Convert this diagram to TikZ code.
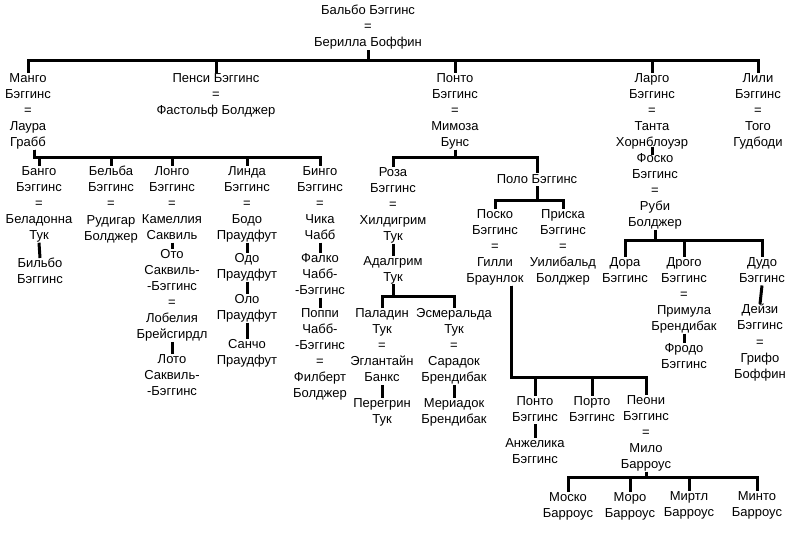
\documentclass[tikz,border=0pt]{standalone}
\usepackage{fontspec}
\setmainfont{Liberation Sans}

\begin{document}
\begin{tikzpicture}[x=1pt,y=-1pt]
\useasboundingbox (0,0) rectangle (790,536);
\tikzset{PersonStyle/.style =
	{anchor = north,
		align = center,
		inner sep = 0pt,
		font = \fontsize{13}{16.1}\selectfont,
		execute at begin node = {\rule{0pt}{10pt}},
		execute at end node = {\rule[-3pt]{0pt}{3pt}}}}

% Balbo and his children
\node[PersonStyle] (Balbo) at (368,5) {Бальбо Бэггинс\\=\\Берилла Боффин};
\node[PersonStyle] (Mungo) at (28,73) {Манго\\Бэггинс\\=\\Лаура\\Грабб};
\node[PersonStyle] (Pansy) at (216,73) {Пенси Бэггинс\\=\\Фастольф Болджер};
\node[PersonStyle] (Ponto) at (455,73) {Понто\\Бэггинс\\=\\Мимоза\\Бунс};
\node[PersonStyle] (Largo) at (652,73) {Ларго\\Бэггинс\\=\\Танта\\Хорнблоуэр};
\node[PersonStyle] (Lily) at (758,73) {Лили\\Бэггинс\\=\\Того\\Гудбоди};

% Mungo's line
\node[PersonStyle] (Bungo) at (39,166) {Банго\\Бэггинс\\=\\Беладонна\\Тук};
\node[PersonStyle] (Belba) at (111,166) {Бельба\\Бэггинс\\=\\Рудигар\\Болджер};
\node[PersonStyle] (Longo) at (172,166) {Лонго\\Бэггинс\\=\\Камеллия\\Саквиль};
\node[PersonStyle] (Linda) at (247,166) {Линда\\Бэггинс\\=\\Бодо\\Праудфут};
\node[PersonStyle] (Bingo) at (320,166) {Бинго\\Бэггинс\\=\\Чика\\Чабб};
\node[PersonStyle] (Bilbo) at (40,258) {Бильбо\\Бэггинс};
\node[PersonStyle] (Otho) at (172,249) {Ото\\Саквиль-\\-Бэггинс\\=\\Лобелия\\Брейсгирдл};
\node[PersonStyle] (Lotho) at (172,354) {Лото\\Саквиль-\\-Бэггинс};
\node[PersonStyle] (Odo) at (247,253) {Одо\\Праудфут};
\node[PersonStyle] (Olo) at (247,294) {Оло\\Праудфут};
\node[PersonStyle] (Sancho) at (247,339) {Санчо\\Праудфут};
\node[PersonStyle] (Falco) at (320,253) {Фалко\\Чабб-\\-Бэггинс};
\node[PersonStyle] (Poppy) at (320,308) {Поппи\\Чабб-\\-Бэггинс\\=\\Филберт\\Болджер};

% Ponto's line
\node[PersonStyle] (Rosa) at (393,167) {Роза\\Бэггинс\\=\\Хилдигрим\\Тук};
\node[PersonStyle] (Polo) at (537,173) {Поло Бэггинс};
\node[PersonStyle] (Adalgrim) at (393,256) {Адалгрим\\Тук};
\node[PersonStyle] (Paladin) at (382,308) {Паладин\\Тук\\=\\Эглантайн\\Банкс};
\node[PersonStyle] (Esmeralda) at (454,308) {Эсмеральда\\Тук\\=\\Сарадок\\Брендибак};
\node[PersonStyle] (Peregrin) at (382,398) {Перегрин\\Тук};
\node[PersonStyle] (Merry) at (454,398) {Мериадок\\Брендибак};
\node[PersonStyle] (Posco) at (495,209) {Поско\\Бэггинс\\=\\Гилли\\Браунлок};
\node[PersonStyle] (Prisca) at (563,209) {Приска\\Бэггинс\\=\\Уилибальд\\Болджер};
\node[PersonStyle] (PontoII) at (535,396) {Понто\\Бэггинс};
\node[PersonStyle] (Porto) at (592,396) {Порто\\Бэггинс};
\node[PersonStyle] (Peony) at (646,395) {Пеони\\Бэггинс\\=\\Мило\\Барроус};
\node[PersonStyle] (Angelica) at (535,438) {Анжелика\\Бэггинс};
\node[PersonStyle] (Mosco) at (568,492) {Моско\\Барроус};
\node[PersonStyle] (Moro) at (630,492) {Моро\\Барроус};
\node[PersonStyle] (Myrtle) at (689,491) {Миртл\\Барроус};
\node[PersonStyle] (Minto) at (757,491) {Минто\\Барроус};

% Largo's line
\node[PersonStyle] (Fosco) at (655,153) {Фоско\\Бэггинс\\=\\Руби\\Болджер};
\node[PersonStyle] (Dora) at (625,257) {Дора\\Бэггинс};
\node[PersonStyle] (Drogo) at (684,257) {Дрого\\Бэггинс\\=\\Примула\\Брендибак};
\node[PersonStyle] (Dudo) at (762,257) {Дудо\\Бэггинс};
\node[PersonStyle] (Frodo) at (684,343) {Фродо\\Бэггинс};
\node[PersonStyle] (Daisy) at (760,304) {Дейзи\\Бэггинс\\=\\Грифо\\Боффин};

\tikzset{LinkStyle/.style={line width=3pt}}
\coordinate (BalboBar) at (368,60);
\coordinate (MungoBar) at (34,157);
\coordinate (PontoBar) at (455,157);
\coordinate (AdalgrimBar) at (393,296);
\coordinate (PoloBar) at (537,200);
\coordinate (PoscoBar) at (511,377);
\coordinate (PeonyBar) at (646,477);
\coordinate (FoscoBar) at (655,240);

\foreach \kid in {Mungo,Pansy,Ponto,Largo,Lily}
	\draw[LinkStyle] (Balbo.south) -- (BalboBar) -| (\kid.north);
\foreach \kid in {Bungo,Belba,Longo,Linda,Bingo}
	\draw[LinkStyle] (MungoBar |- Mungo.south) -- (MungoBar) -| (\kid.north);
\foreach \kid in {Rosa,Polo}
	\draw[LinkStyle] (Ponto.south) -- (PontoBar) -| (\kid.north);
\foreach \kid in {Paladin,Esmeralda}
	\draw[LinkStyle] (Adalgrim.south) -- (AdalgrimBar) -| (\kid.north);
\foreach \kid in {Posco,Prisca}
	\draw[LinkStyle] (Polo.south) -- (PoloBar) -| (\kid.north);
\foreach \kid in {PontoII,Porto,Peony}
	\draw[LinkStyle] (PoscoBar |- Posco.south) -- (PoscoBar) -| (\kid.north);
\foreach \kid in {Mosco,Moro,Myrtle,Minto}
	\draw[LinkStyle] (Peony.south) -- (PeonyBar) -| (\kid.north);
\foreach \kid in {Dora,Drogo,Dudo}
	\draw[LinkStyle] (Fosco.south) -- (FoscoBar) -| (\kid.north);

% single lines
\draw[LinkStyle] ([yshift=3pt]Largo.south) -- ([yshift=-2pt]Largo.south |- Fosco.north);
\draw[LinkStyle] (Bungo.south) -- (Bilbo.north);
\draw[LinkStyle] (Longo.south) -- (Otho.north);
\draw[LinkStyle] (Otho.south) -- (Lotho.north);
\draw[LinkStyle] (Linda.south) -- (Odo.north);
\draw[LinkStyle] (Odo.south) -- (Olo.north);
\draw[LinkStyle] (Olo.south) -- (Sancho.north);
\draw[LinkStyle] (Bingo.south) -- (Falco.north);
\draw[LinkStyle] (Falco.south) -- (Poppy.north);
\draw[LinkStyle] (Rosa.south) -- (Adalgrim.north);
\draw[LinkStyle] (Paladin.south) -- (Peregrin.north);
\draw[LinkStyle] (Esmeralda.south) -- (Merry.north);
\draw[LinkStyle] (PontoII.south) -- (Angelica.north);
\draw[LinkStyle] (Drogo.south) -- (Frodo.north);
\draw[LinkStyle] (Dudo.south) -- (Daisy.north);
\end{tikzpicture}
\end{document}
